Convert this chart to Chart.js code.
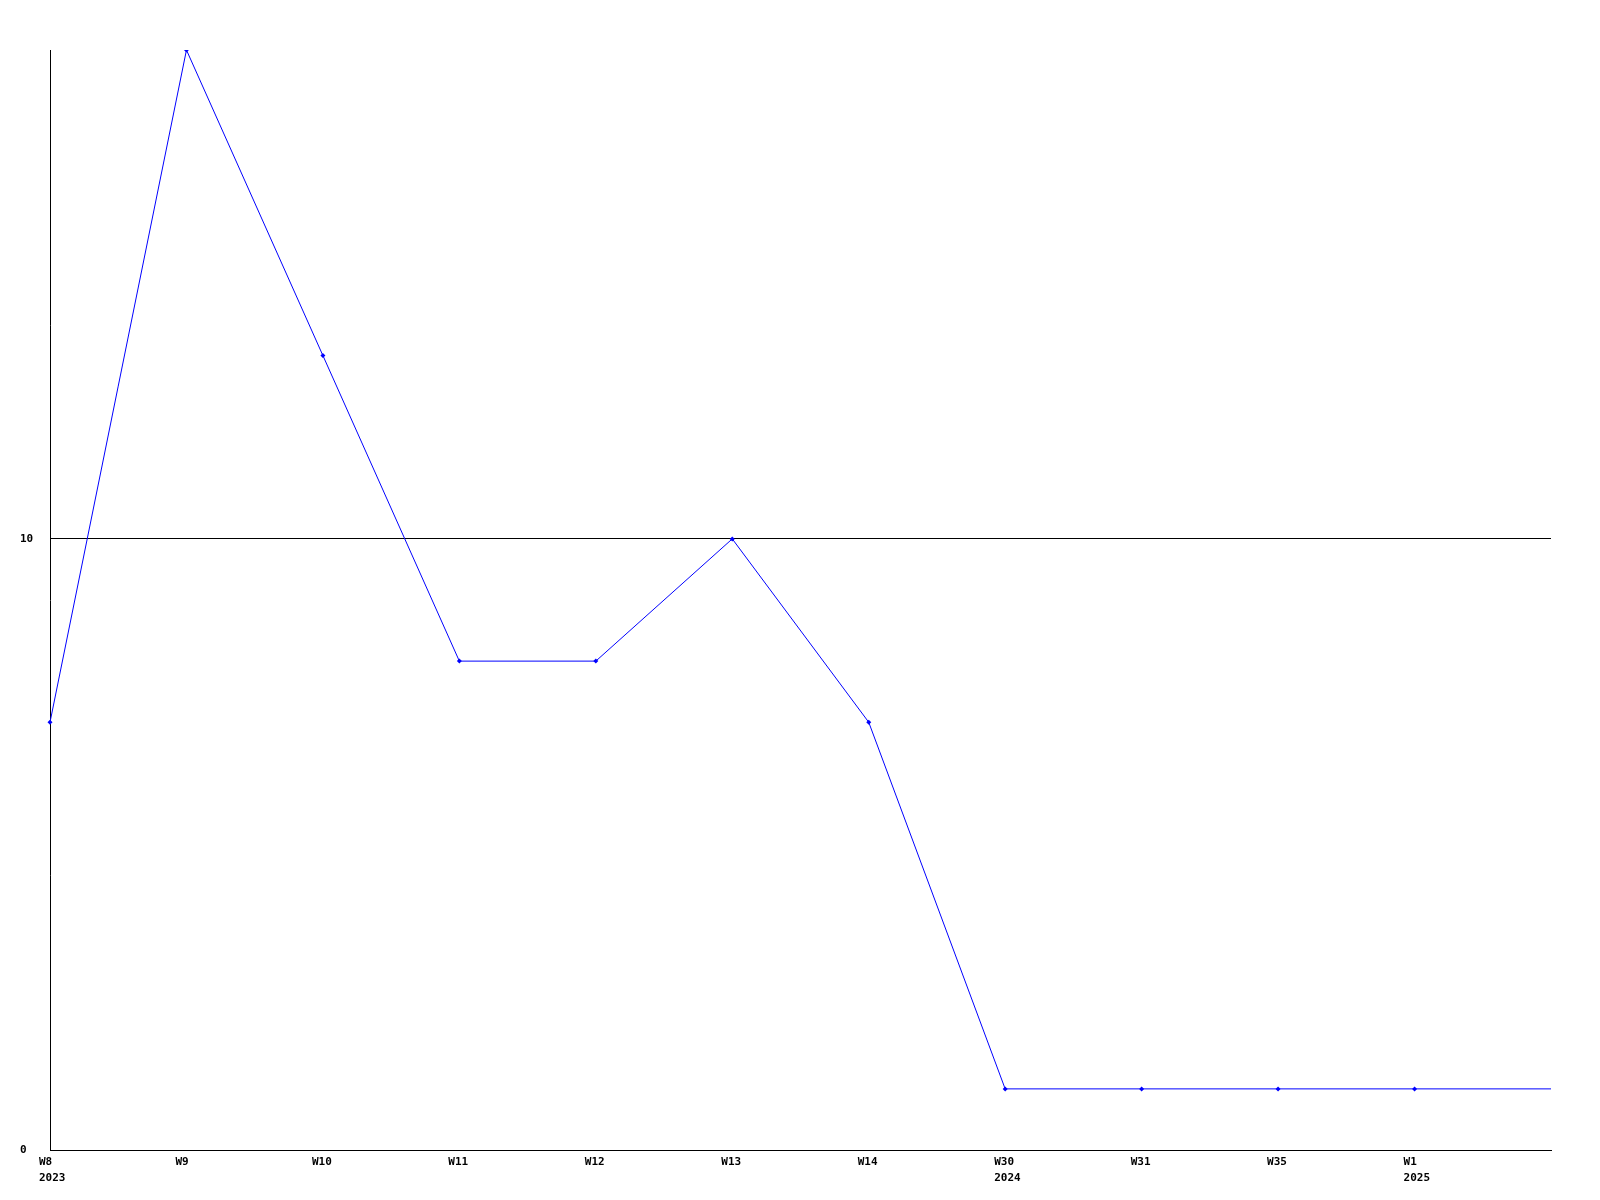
<!DOCTYPE html>
<html>
<head>
<meta charset="utf-8">
<script src="https://cdn.jsdelivr.net/npm/chart.js@4/dist/chart.umd.min.js"></script>
<style>
  body { margin: 0; background: #fff; }
  canvas { display: block; }
</style>
</head>
<body>
<canvas id="chart" width="1600" height="1200"></canvas>
<script>
// weeks on the x axis, a year line under the first week of each year
var weeks = [['W8', '2023'], 'W9', 'W10', 'W11', 'W12', 'W13', 'W14', ['W30', '2024'], 'W31', 'W35', ['W1', '2025'], ''];
var counts = [7, 18, 13, 8, 8, 10, 7, 1, 1, 1, 1, 1];
var yTicks = [0, 10];

var font = { family: '"DejaVu Sans Mono", "Liberation Mono", monospace', size: 11, weight: 'bold', lineHeight: 1.45 };

var ctx = document.getElementById('chart');
var lineChart = new Chart(ctx, {
    type: 'line',
    data: {
        labels: weeks,
        datasets: [{
            data: counts,
            borderColor: '#0000ff',
            backgroundColor: '#0000ff',
            borderWidth: 1,
            pointStyle: 'rectRot',
            pointRadius: counts.map(function (v, i) { return i === counts.length - 1 ? 0 : 2.5; }),
            pointBorderWidth: 0,
            tension: 0,
            fill: false
        }]
    },
    options: {
        responsive: false,
        animation: false,
        layout: { padding: { top: 50, right: 49, left: 20, bottom: 0 } },
        plugins: { legend: { display: false }, tooltip: { enabled: false } },
        scales: {
            x: {
                offset: false,
                grid: { display: false, drawTicks: false },
                border: { color: '#000', width: 1 },
                ticks: { color: '#000', font: font, maxRotation: 0, autoSkip: false, padding: 4, align: 'start', labelOffset: -11 },
                afterFit: function (scale) { scale.height = 50; }
            },
            y: {
                min: 0,
                max: 18,
                afterBuildTicks: function (scale) {
                    scale.ticks = yTicks.map(function (v) { return { value: v }; });
                },
                grid: { color: '#000', drawTicks: false, lineWidth: 1 },
                border: { color: '#000', width: 1 },
                ticks: { color: '#000', font: font, crossAlign: 'far', padding: 0 },
                afterFit: function (scale) { scale.width = 30; }
            }
        }
    }
});
</script>
</body>
</html>
